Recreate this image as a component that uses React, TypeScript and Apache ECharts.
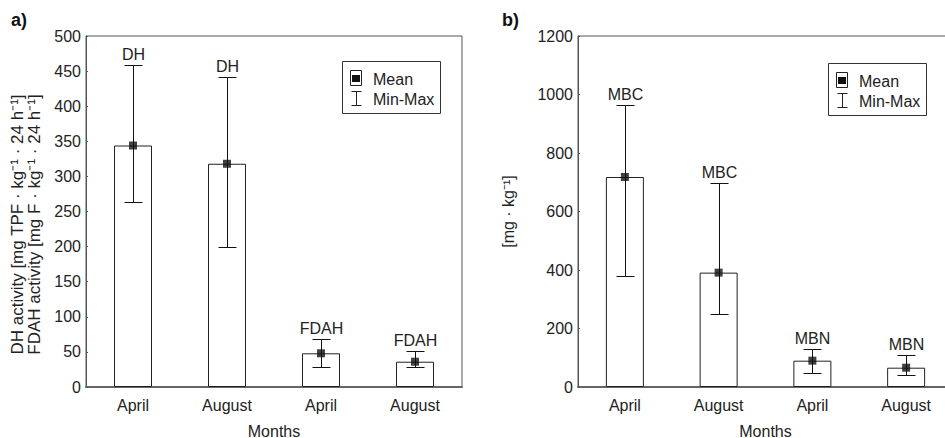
import React, { useEffect, useRef } from "react";
import * as echarts from "echarts";

const categoriesA = ["April", "August", "April", "August"];
const meansA = [344, 318, 48, 36];
const minsA = [264, 199, 28, 28];
const maxsA = [459, 441, 69, 51];
const groupLabelsA = ["DH", "DH", "FDAH", "FDAH"];

const categoriesB = ["April", "August", "April", "August"];
const meansB = [718, 391, 90, 66];
const minsB = [380, 248, 49, 42];
const maxsB = [963, 699, 131, 108];
const groupLabelsB = ["MBC", "MBC", "MBN", "MBN"];

const yTicksA = { min: 0, max: 500, interval: 50 };
const yTicksB = { min: 0, max: 1200, interval: 200 };

const yNameA = "DH activity [mg TPF · kg⁻¹ · 24 h⁻¹]\nFDAH activity [mg F · kg⁻¹ · 24 h⁻¹]";
const yNameB = "[mg · kg⁻¹]";
const xName = "Months";

const FONT = "'Liberation Sans', Arial, Helvetica, sans-serif";
const FS = 16;
const TXT = "#222";
const AX = "#555";

function errorSeries(gridIdx: number, mins: number[], maxs: number[], labels: string[]) {
  return {
    type: "custom",
    xAxisIndex: gridIdx,
    yAxisIndex: gridIdx,
    z: 3,
    data: mins.map((m, i) => [i, m, maxs[i]]),
    encode: { x: 0, y: [1, 2] },
    renderItem: (params: any, api: any) => {
      const idx = api.value(0);
      const lo = api.coord([idx, api.value(1)]);
      const hi = api.coord([idx, api.value(2)]);
      const x = Math.round(lo[0]) + 0.5;
      const yLo = Math.round(lo[1]) + 0.5;
      const yHi = Math.round(hi[1]) + 0.5;
      const half = 9;
      const st = { stroke: "#111", lineWidth: 1 };
      return {
        type: "group",
        children: [
          { type: "line", shape: { x1: x, y1: yLo, x2: x, y2: yHi }, style: st },
          { type: "line", shape: { x1: x - half, y1: yLo, x2: x + half, y2: yLo }, style: st },
          { type: "line", shape: { x1: x - half, y1: yHi, x2: x + half, y2: yHi }, style: st },
          {
            type: "text",
            style: {
              text: labels[params.dataIndex],
              x: x,
              y: yHi - 3,
              align: "center",
              verticalAlign: "bottom",
              fontSize: FS,
              fontFamily: FONT,
              fill: TXT,
            },
          },
        ],
      };
    },
  };
}

function legendGraphic(bx: number, by: number) {
  const st = { stroke: "#222", lineWidth: 1 };
  return {
    type: "group",
    x: bx,
    y: by,
    children: [
      { type: "rect", shape: { x: 0.5, y: 0.5, width: 98, height: 52 }, style: { fill: "#fff", stroke: "#333", lineWidth: 1 } },
      { type: "rect", shape: { x: 8.5, y: 9.5, width: 11, height: 15 }, style: { fill: "#fff", stroke: "#222", lineWidth: 1 } },
      { type: "rect", shape: { x: 10, y: 14, width: 8, height: 7 }, style: { fill: "#111" } },
      { type: "line", shape: { x1: 14.5, y1: 30, x2: 14.5, y2: 45 }, style: st },
      { type: "line", shape: { x1: 9.5, y1: 30.5, x2: 19.5, y2: 30.5 }, style: st },
      { type: "line", shape: { x1: 9.5, y1: 44.5, x2: 19.5, y2: 44.5 }, style: st },
      { type: "text", style: { text: "Mean", x: 31, y: 18.5, verticalAlign: "middle", fontSize: FS, fontFamily: FONT, fill: TXT } },
      { type: "text", style: { text: "Min-Max", x: 31, y: 38.5, verticalAlign: "middle", fontSize: FS, fontFamily: FONT, fill: TXT } },
    ],
  };
}

function xAxisCfg(gridIndex: number, cats: string[]) {
  return {
    type: "category",
    gridIndex,
    data: cats,
    name: xName,
    nameLocation: "middle",
    nameGap: 36,
    nameTextStyle: { fontSize: FS, fontFamily: FONT, color: TXT },
    axisLine: { lineStyle: { color: "#666", width: 2 } },
    axisTick: { show: true, inside: true, length: 2, alignWithLabel: true, lineStyle: { color: AX } },
    axisLabel: { fontSize: FS, fontFamily: FONT, color: TXT, margin: 10 },
    splitLine: { show: false },
  };
}

function yAxisCfg(gridIndex: number, ticks: any, name: string, gap: number, pad: number, nameSize: number) {
  return {
    type: "value",
    gridIndex,
    min: ticks.min,
    max: ticks.max,
    interval: ticks.interval,
    name,
    nameLocation: "middle",
    nameRotate: 90,
    nameGap: gap,
    nameTextStyle: { fontSize: nameSize, fontFamily: FONT, color: TXT, lineHeight: 17, padding: [0, pad, 0, 0] },
    axisLine: { show: true, lineStyle: { color: AX, width: 1 } },
    axisTick: { show: true, inside: true, length: 2, lineStyle: { color: AX } },
    axisLabel: { fontSize: FS, fontFamily: FONT, color: TXT, margin: 5, formatter: (v: number) => String(v) },
    splitLine: { show: false },
  };
}

function barSeries(gridIdx: number, means: number[]) {
  return {
    type: "bar",
    xAxisIndex: gridIdx,
    yAxisIndex: gridIdx,
    data: means,
    barWidth: 38,
    z: 2,
    itemStyle: { color: "#fff", borderColor: "#222", borderWidth: 1 },
  };
}

function meanSeries(gridIdx: number, means: number[]) {
  return {
    type: "scatter",
    xAxisIndex: gridIdx,
    yAxisIndex: gridIdx,
    data: means,
    symbol: "rect",
    symbolSize: 8,
    z: 4,
    itemStyle: { color: "#111" },
  };
}

export default function App() {
  const ref = useRef<HTMLDivElement>(null);
  useEffect(() => {
    if (!ref.current) return;
    const chart = echarts.init(ref.current, undefined, { renderer: "svg" });
    chart.setOption({
      animation: false,
      backgroundColor: "#fff",
      textStyle: { fontFamily: FONT },
      grid: [
        { left: 86, top: 36, width: 376, height: 351, outerBoundsMode: "none", containLabel: false, show: true, borderColor: AX, borderWidth: 1, backgroundColor: "transparent" },
        { left: 578, top: 36, width: 375, height: 351, outerBoundsMode: "none", containLabel: false, show: true, borderColor: AX, borderWidth: 1, backgroundColor: "transparent" },
      ],
      xAxis: [xAxisCfg(0, categoriesA), xAxisCfg(1, categoriesB)],
      yAxis: [yAxisCfg(0, yTicksA, yNameA, 43, 26, 17), yAxisCfg(1, yTicksB, yNameB, 61, 0, 16)],
      series: [
        barSeries(0, meansA),
        errorSeries(0, minsA, maxsA, groupLabelsA),
        meanSeries(0, meansA),
        barSeries(1, meansB),
        errorSeries(1, minsB, maxsB, groupLabelsB),
        meanSeries(1, meansB),
      ],
      graphic: [
        { type: "text", left: 11, top: 11, style: { text: "a)", fontSize: 18, fontWeight: "bold", fontFamily: FONT, fill: "#111" } },
        { type: "text", left: 502, top: 11, style: { text: "b)", fontSize: 18, fontWeight: "bold", fontFamily: FONT, fill: "#111" } },
        legendGraphic(342, 61),
        legendGraphic(828, 63),
      ],
    });
    return () => chart.dispose();
  }, []);
  return (
    <div
      ref={ref}
      style={{ position: "absolute", left: 0, top: 0, width: 945, height: 438, overflow: "hidden" }}
    />
  );
}
